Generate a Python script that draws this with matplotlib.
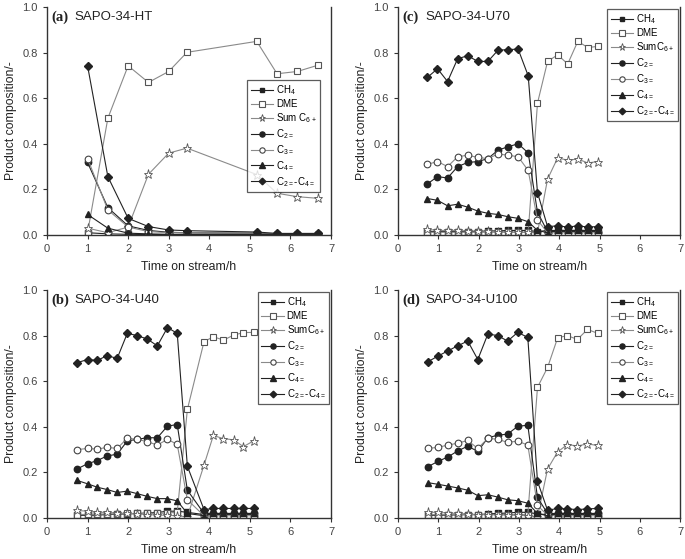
import matplotlib
matplotlib.use("Agg")
import matplotlib.pyplot as plt

plt.rcParams['font.family'] = ['Liberation Sans', 'DejaVu Sans']
plt.rcParams['mathtext.fontset'] = 'custom'
plt.rcParams['mathtext.rm'] = 'Liberation Sans'
plt.rcParams['mathtext.default'] = 'regular'

# (a) SAPO-34-HT
t_a = [1.0, 1.5, 2.0, 2.5, 3.0, 3.45, 5.17, 5.67, 6.17, 6.67]
a_ch4 = [0.010, 0.005, 0.003, 0.002, 0.002, 0.002, 0.002, 0.002, 0.002, 0.002]
a_dme = [0.010, 0.512, 0.742, 0.669, 0.717, 0.801, 0.849, 0.707, 0.717, 0.744]
a_c6 = [0.030, 0.010, 0.035, 0.266, 0.359, 0.381, 0.265, 0.183, 0.168, 0.161]
a_c2 = [0.318, 0.120, 0.040, 0.020, 0.012, 0.010, 0.008, 0.004, 0.004, 0.004]
a_c3 = [0.335, 0.110, 0.035, 0.015, 0.010, 0.010, 0.006, 0.005, 0.005, 0.005]
a_c4 = [0.090, 0.030, 0.008, 0.005, 0.003, 0.003, 0.003, 0.003, 0.003, 0.003]
a_sum = [0.742, 0.256, 0.073, 0.037, 0.022, 0.019, 0.013, 0.007, 0.007, 0.007]

# (b) SAPO-34-U40
t_b = [0.74, 1.0, 1.24, 1.48, 1.73, 1.98, 2.22, 2.47, 2.72, 2.97, 3.21, 3.46,
       3.87, 4.10, 4.35, 4.60, 4.84, 5.09]
b_ch4 = [0.012, 0.012, 0.013, 0.015, 0.017, 0.018, 0.020, 0.022, 0.024, 0.030,
         0.030, 0.025, 0.015, 0.015, 0.015, 0.015, 0.015, 0.015]
b_dme = [0.015, 0.016, 0.017, 0.018, 0.018, 0.020, 0.020, 0.020, 0.020, 0.022,
         0.025, 0.476, 0.773, 0.795, 0.780, 0.802, 0.813, 0.814]
b_c6 = [0.033, 0.030, 0.025, 0.025, 0.022, 0.020, 0.018, 0.015, 0.013, 0.012,
        0.010, 0.005, 0.232, 0.362, 0.348, 0.343, 0.313, 0.338]
b_c2 = [0.215, 0.238, 0.252, 0.272, 0.280, 0.338, 0.345, 0.352, 0.352, 0.403,
        0.410, 0.122, 0.020, 0.020, 0.020, 0.020, 0.020, 0.020]
b_c3 = [0.300, 0.305, 0.302, 0.310, 0.305, 0.350, 0.345, 0.335, 0.320, 0.345,
        0.323, 0.080, 0.010, 0.010, 0.010, 0.010, 0.010, 0.010]
b_c4 = [0.165, 0.150, 0.135, 0.125, 0.112, 0.118, 0.107, 0.095, 0.085, 0.085,
        0.075, 0.020, 0.010, 0.020, 0.020, 0.020, 0.020, 0.020]
b_sum = [0.681, 0.695, 0.691, 0.712, 0.700, 0.810, 0.800, 0.785, 0.755, 0.835,
         0.810, 0.227, 0.037, 0.042, 0.042, 0.042, 0.042, 0.042]

# (c) SAPO-34-U70
t_c = [0.73, 0.98, 1.23, 1.48, 1.73, 1.98, 2.23, 2.48, 2.73, 2.98, 3.23, 3.46,
       3.71, 3.96, 4.21, 4.46, 4.71, 4.96]
c_ch4 = [0.015, 0.015, 0.015, 0.015, 0.015, 0.015, 0.018, 0.018, 0.020, 0.020,
         0.020, 0.015, 0.020, 0.020, 0.020, 0.020, 0.020, 0.020]
c_dme = [0.012, 0.012, 0.012, 0.012, 0.012, 0.012, 0.012, 0.012, 0.012, 0.012,
         0.012, 0.578, 0.761, 0.790, 0.750, 0.849, 0.822, 0.827]
c_c6 = [0.025, 0.020, 0.020, 0.020, 0.018, 0.018, 0.016, 0.015, 0.014, 0.012,
        0.012, 0.010, 0.245, 0.338, 0.328, 0.333, 0.316, 0.322]
c_c2 = [0.224, 0.256, 0.250, 0.300, 0.318, 0.322, 0.335, 0.372, 0.387, 0.400,
        0.360, 0.100, 0.015, 0.015, 0.015, 0.015, 0.015, 0.015]
c_c3 = [0.310, 0.322, 0.300, 0.343, 0.350, 0.340, 0.335, 0.355, 0.350, 0.343,
        0.283, 0.066, 0.010, 0.010, 0.010, 0.010, 0.010, 0.010]
c_c4 = [0.160, 0.152, 0.128, 0.135, 0.122, 0.105, 0.095, 0.090, 0.080, 0.073,
        0.058, 0.020, 0.010, 0.020, 0.020, 0.020, 0.020, 0.020]
c_sum = [0.691, 0.729, 0.673, 0.773, 0.786, 0.761, 0.761, 0.810, 0.813, 0.815,
         0.698, 0.186, 0.037, 0.040, 0.035, 0.040, 0.035, 0.037]

# (d) SAPO-34-U100
t_d = [0.74, 0.99, 1.24, 1.48, 1.73, 1.98, 2.23, 2.47, 2.72, 2.97, 3.22, 3.46,
       3.71, 3.96, 4.20, 4.45, 4.70, 4.95]
d_ch4 = [0.012, 0.012, 0.013, 0.014, 0.015, 0.015, 0.018, 0.020, 0.022, 0.025,
         0.025, 0.018, 0.015, 0.015, 0.015, 0.015, 0.015, 0.015]
d_dme = [0.015, 0.015, 0.015, 0.015, 0.015, 0.015, 0.015, 0.015, 0.015, 0.015,
         0.015, 0.573, 0.660, 0.790, 0.800, 0.783, 0.827, 0.810]
d_c6 = [0.025, 0.025, 0.022, 0.020, 0.018, 0.015, 0.015, 0.014, 0.013, 0.012,
        0.010, 0.005, 0.215, 0.290, 0.322, 0.316, 0.325, 0.318]
d_c2 = [0.225, 0.248, 0.268, 0.294, 0.315, 0.292, 0.352, 0.363, 0.368, 0.402,
        0.407, 0.090, 0.020, 0.020, 0.020, 0.020, 0.020, 0.020]
d_c3 = [0.305, 0.310, 0.320, 0.328, 0.340, 0.305, 0.350, 0.345, 0.332, 0.337,
        0.320, 0.055, 0.012, 0.010, 0.010, 0.010, 0.010, 0.010]
d_c4 = [0.155, 0.148, 0.140, 0.132, 0.122, 0.098, 0.102, 0.092, 0.080, 0.076,
        0.065, 0.020, 0.010, 0.020, 0.020, 0.020, 0.020, 0.020]
d_sum = [0.685, 0.710, 0.733, 0.755, 0.776, 0.695, 0.807, 0.800, 0.776, 0.814,
         0.792, 0.161, 0.034, 0.042, 0.040, 0.037, 0.040, 0.042]

dark = '#222222'
grey = '#8a8a8a'

def draw(ax, t, series, tag, name, c6_label):
    labels = ['CH$_4$', 'DME', c6_label, 'C$_{2=}$', 'C$_{3=}$', 'C$_{4=}$',
              'C$_{2=}$-C$_{4=}$']
    styles = [
        dict(marker='s', color=dark, mfc=dark, mec=dark, ms=4.2),
        dict(marker='s', color=grey, mfc='white', mec='#555555', ms=4.8, mew=0.8),
        dict(marker='*', color=grey, mfc='white', mec='#555555', ms=6.5, mew=0.6),
        dict(marker='o', color=dark, mfc=dark, mec=dark, ms=4.6),
        dict(marker='o', color=grey, mfc='white', mec='#444444', ms=4.8, mew=0.8),
        dict(marker='^', color=dark, mfc=dark, mec=dark, ms=4.8),
        dict(marker='D', color=dark, mfc=dark, mec=dark, ms=4.2),
    ]
    for y, lab, st in zip(series, labels, styles):
        ax.plot(t, y, lw=0.8, label=lab, **st)
    ax.set_xlim(0, 7)
    ax.set_ylim(0, 1.0)
    ax.set_xticks(range(8))
    ax.set_yticks([0.0, 0.2, 0.4, 0.6, 0.8, 1.0])
    ax.set_yticklabels(['0.0', '0.2', '0.4', '0.6', '0.8', '1.0'])
    ax.spines['top'].set_visible(False)
    for s in ['left', 'bottom', 'right']:
        ax.spines[s].set_linewidth(1.0)
        ax.spines[s].set_color('#333333')
    ax.tick_params(direction='out', length=3, width=0.8, labelsize=8,
                   colors='#333333', labelcolor='#444444')
    ax.set_xlabel('Time on stream/h', fontsize=8.8, color='#222222', labelpad=5)
    ax.set_ylabel('Product composition/-', fontsize=8.8, color='#222222')
    ax.text(0.1, 0.955, tag, fontsize=10.5, fontweight='bold',
            family='Liberation Serif', va='center', color='#222222')
    ax.text(0.68, 0.955, name, fontsize=9.5, va='center', color='#222222')
    leg = ax.legend(loc='upper right', fontsize=7, frameon=True, fancybox=False,
                    handlelength=2.3, handletextpad=0.3, labelspacing=0.22,
                    borderpad=0.35, borderaxespad=0.2, markerscale=0.8)
    leg.get_frame().set_edgecolor('#333333')
    leg.get_frame().set_linewidth(0.9)
    return leg

fig = plt.figure(figsize=(6.85, 5.59), dpi=100)
ax_a = fig.add_axes([0.0686, 0.5796, 0.4146, 0.408])
ax_c = fig.add_axes([0.581, 0.5796, 0.412, 0.408])
ax_b = fig.add_axes([0.0686, 0.0733, 0.4146, 0.408])
ax_d = fig.add_axes([0.581, 0.0733, 0.412, 0.408])

leg_a = draw(ax_a, t_a, [a_ch4, a_dme, a_c6, a_c2, a_c3, a_c4, a_sum],
             '(a)', 'SAPO-34-HT', 'Sum C$_{6+}$')
leg_a.set_bbox_to_anchor((0.968, 0.69), transform=ax_a.transAxes)
draw(ax_b, t_b, [b_ch4, b_dme, b_c6, b_c2, b_c3, b_c4, b_sum],
     '(b)', 'SAPO-34-U40', 'SumC$_{6+}$')
draw(ax_c, t_c, [c_ch4, c_dme, c_c6, c_c2, c_c3, c_c4, c_sum],
     '(c)', 'SAPO-34-U70', 'SumC$_{6+}$')
draw(ax_d, t_d, [d_ch4, d_dme, d_c6, d_c2, d_c3, d_c4, d_sum],
     '(d)', 'SAPO-34-U100', 'SumC$_{6+}$')

fig.savefig('out.png', dpi=100)
